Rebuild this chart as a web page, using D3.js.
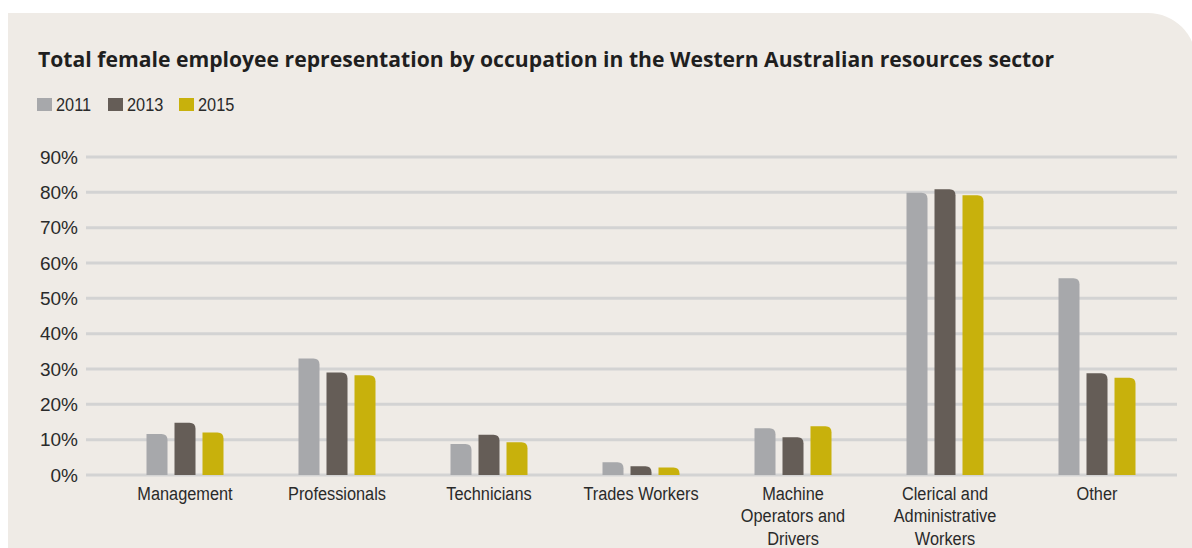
<!DOCTYPE html>
<html>
<head>
<meta charset="utf-8">
<script src="https://cdn.jsdelivr.net/npm/d3@7/dist/d3.min.js"></script>
<style>
  body { margin: 0; background: #ffffff; }
  svg { display: block; }
</style>
</head>
<body>
<script>
// DATA
const categories = ["Management", "Professionals", "Technicians", "Trades Workers",
  "Machine Operators and Drivers", "Clerical and Administrative Workers", "Other"];
const catLines = [["Management"], ["Professionals"], ["Technicians"], ["Trades Workers"],
  ["Machine", "Operators and", "Drivers"], ["Clerical and", "Administrative", "Workers"], ["Other"]];
const years = ["2011", "2013", "2015"];
const values2011 = [11.6, 33.0, 8.8, 3.6, 13.2, 79.9, 55.7];
const values2013 = [14.8, 29.0, 11.4, 2.5, 10.7, 80.9, 28.8];
const values2015 = [12.0, 28.2, 9.3, 2.1, 13.8, 79.2, 27.5];
const yTicks = [0, 10, 20, 30, 40, 50, 60, 70, 80, 90];

const series = [values2011, values2013, values2015];
const colors = ["#a7a8ab", "#655d57", "#c8b10c"];

const W = 1192, H = 548;
const svg = d3.select("body").append("svg").attr("width", W).attr("height", H);

// PANEL with rounded top right corner
const px = 8, py = 13, pr = 48;
svg.append("path")
  .attr("d", `M${px},${py} H${W + 4 - pr} A${pr},${pr} 0 0 1 ${W + 4},${py + pr} V${H} H${px} Z`)
  .attr("fill", "#efebe6");

// TITLE
svg.append("text")
  .attr("x", 38).attr("y", 67)
  .attr("font-family", "'Open Sans', sans-serif")
  .attr("font-weight", "bold")
  .attr("font-size", 20.5)
  .attr("fill", "#1f1f1f")
  .attr("textLength", 1016)
  .attr("lengthAdjust", "spacingAndGlyphs")
  .text("Total female employee representation by occupation in the Western Australian resources sector");

// condensed text helper (no narrow font installed)
const squeeze = 0.86;

// LEGEND
const legendX = [37, 108, 179];
const legend = svg.append("g").selectAll("g").data(years).enter().append("g")
  .attr("transform", (d, i) => `translate(${legendX[i]}, 98)`);
legend.append("rect").attr("width", 15).attr("height", 13).attr("fill", (d, i) => colors[i]);
legend.append("text")
  .attr("transform", `translate(19, 13) scale(${squeeze}, 1)`)
  .attr("font-family", "'Liberation Sans', Arial, sans-serif")
  .attr("font-size", 19)
  .attr("fill", "#2a2a2a")
  .text(d => d);

// SCALES
const Y = d3.scaleLinear().domain([0, 90]).range([475, 157]);
const X = d3.scaleBand().domain(categories).range([109, 1173]);
const barW = 21, barGap = 7;

// GRID + Y LABELS
const grid = svg.append("g");
grid.selectAll("line").data(yTicks).enter().append("line")
  .attr("x1", 86).attr("x2", 1177)
  .attr("y1", d => Y(d)).attr("y2", d => Y(d))
  .attr("stroke", "#d3d3d3").attr("stroke-width", 3);
grid.selectAll("text").data(yTicks).enter().append("text")
  .attr("x", 78).attr("y", d => Y(d) + 6.5)
  .attr("text-anchor", "end")
  .attr("font-family", "'Liberation Sans', Arial, sans-serif")
  .attr("font-size", 19)
  .attr("fill", "#2a2a2a")
  .text(d => d + "%");

// BARS (rounded top right corner)
function barPath(x, y, w, h) {
  const r = Math.min(6, h);
  return `M${x},${y + h} V${y} H${x + w - r} Q${x + w},${y} ${x + w},${y + r} V${y + h} Z`;
}
series.forEach((vals, s) => {
  svg.append("g").selectAll("path").data(vals).enter().append("path")
    .attr("d", (d, i) => {
      const cx = X(categories[i]) + X.bandwidth() / 2;
      const x = cx - 1.5 * barW - barGap + s * (barW + barGap);
      return barPath(x, Y(d), barW, Y(0) - Y(d));
    })
    .attr("fill", colors[s]);
});

// CATEGORY LABELS
const lab = svg.append("g").selectAll("text").data(categories).enter().append("text")
  .attr("transform", d => `translate(${X(d) + X.bandwidth() / 2}, 500) scale(${squeeze}, 1)`)
  .attr("text-anchor", "middle")
  .attr("font-family", "'Liberation Sans', Arial, sans-serif")
  .attr("font-size", 19)
  .attr("fill", "#2a2a2a");
lab.each(function(d, i) {
  d3.select(this).selectAll("tspan").data(catLines[i]).enter().append("tspan")
    .attr("x", 0)
    .attr("dy", (t, j) => j === 0 ? 0 : 22.5)
    .text(t => t);
});
</script>
</body>
</html>
